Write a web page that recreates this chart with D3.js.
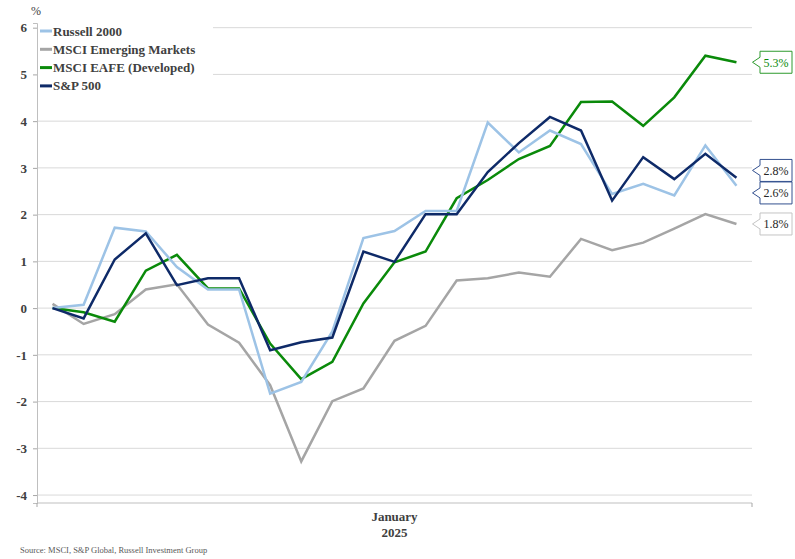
<!DOCTYPE html>
<html>
<head>
<meta charset="utf-8">
<script src="https://cdn.jsdelivr.net/npm/d3@7"></script>
<style>
  body { margin: 0; background: #fff; }
  svg text { font-family: "Liberation Serif", "DejaVu Serif", serif; }
</style>
</head>
<body>
<div id="chart"></div>
<script>
// trading days shown on the x axis (only "January 2025" is labelled)
const days = ["Dec 31", "Jan 2", "Jan 3", "Jan 6", "Jan 7", "Jan 8", "Jan 10", "Jan 13", "Jan 14",
  "Jan 15", "Jan 16", "Jan 17", "Jan 21", "Jan 22", "Jan 23", "Jan 24", "Jan 27", "Jan 28",
  "Jan 29", "Jan 30", "Jan 31", "Feb 3", "Feb 4"];

const russell = [0, 0.07, 1.72, 1.64, 0.88, 0.40, 0.40, -1.83, -1.58, -0.50, 1.50, 1.65,
  2.08, 2.08, 3.97, 3.33, 3.80, 3.51, 2.44, 2.66, 2.41, 3.48, 2.62];
const emerging = [0.09, -0.34, -0.13, 0.40, 0.51, -0.35, -0.74, -1.65, -3.28, -1.99, -1.72, -0.70,
  -0.38, 0.59, 0.64, 0.76, 0.67, 1.48, 1.24, 1.40, 1.70, 2.01, 1.80];
const eafe = [0, -0.09, -0.29, 0.80, 1.14, 0.42, 0.42, -0.76, -1.52, -1.15, 0.10, 0.98,
  1.21, 2.35, 2.74, 3.19, 3.47, 4.41, 4.42, 3.90, 4.51, 5.40, 5.26];
const sp500 = [0, -0.22, 1.04, 1.60, 0.49, 0.64, 0.64, -0.90, -0.73, -0.63, 1.21, 0.99,
  2.01, 2.01, 2.91, 3.53, 4.09, 3.80, 2.30, 3.23, 2.76, 3.30, 2.79];

const seriesNames = ["Russell 2000", "MSCI Emerging Markets", "MSCI EAFE (Developed)", "S&P 500"];
const seriesValues = [russell, emerging, eafe, sp500];
const seriesColors = ["#9dc3e6", "#a5a5a5", "#0a8a0a", "#0e2a68"];
const labelBorders = ["#33508f", "#c4c4c4", "#2e9a2e", "#33508f"];
const labelText = ["#262626", "#262626", "#0a8a0a", "#262626"];

const yTicks = [-4, -3, -2, -1, 0, 1, 2, 3, 4, 5, 6];

const width = 795, height = 559;
const svg = d3.select("#chart").append("svg")
  .attr("width", width)
  .attr("height", height);

const x = d3.scaleBand().domain(days).range([37, 752]);
const y = d3.scaleLinear().domain([-4.17, 6.1]).range([503, 23]);
const cx = d => x(d) + x.bandwidth() / 2;

// gridlines
svg.append("g")
  .selectAll("line")
  .data(yTicks)
  .enter().append("line")
  .attr("x1", 37).attr("x2", 752)
  .attr("y1", d => y(d)).attr("y2", d => y(d))
  .attr("stroke", "#d9d9d9").attr("stroke-width", 1);

// y axis (plain hyphen for negatives, like the original)
const yAxis = svg.append("g")
  .attr("transform", "translate(37,0)")
  .call(d3.axisLeft(y).tickValues(yTicks).tickSize(4).tickPadding(6).tickFormat(d => String(d)));
yAxis.select(".domain").attr("stroke", "#bfbfbf");
yAxis.selectAll(".tick line").attr("stroke", "#a6a6a6");
yAxis.selectAll("text")
  .attr("font-size", 13).attr("font-weight", "bold").attr("fill", "#404040")
  .attr("font-family", "Liberation Serif, serif");

svg.append("text")
  .attr("x", 31).attr("y", 15)
  .attr("font-size", 12).attr("fill", "#404040")
  .text("%");

// x axis
svg.append("line")
  .attr("x1", 37).attr("x2", 752).attr("y1", 503).attr("y2", 503)
  .attr("stroke", "#bfbfbf");
svg.append("g")
  .selectAll("line")
  .data([37, 752])
  .enter().append("line")
  .attr("x1", d => d).attr("x2", d => d)
  .attr("y1", 503).attr("y2", 507)
  .attr("stroke", "#a6a6a6");

svg.append("text")
  .attr("x", cx(days[11])).attr("y", 521)
  .attr("text-anchor", "middle").attr("font-size", 13).attr("font-weight", "bold").attr("fill", "#404040")
  .text("January");
svg.append("text")
  .attr("x", cx(days[11])).attr("y", 537)
  .attr("text-anchor", "middle").attr("font-size", 13).attr("font-weight", "bold").attr("fill", "#404040")
  .text("2025");

// lines
const line = d3.line()
  .x((d, i) => cx(days[i]))
  .y(d => y(d));

const order = [1, 2, 0, 3];
svg.append("g")
  .selectAll("path")
  .data(order)
  .enter().append("path")
  .attr("d", k => line(seriesValues[k]))
  .attr("fill", "none")
  .attr("stroke", k => seriesColors[k])
  .attr("stroke-width", 2.5)
  .attr("stroke-linejoin", "miter");

// legend
const legend = svg.append("g");
legend.append("rect")
  .attr("x", 38).attr("y", 21).attr("width", 175).attr("height", 74)
  .attr("fill", "#fff");
seriesNames.forEach((name, i) => {
  const ly = 31 + i * 18.3;
  legend.append("line")
    .attr("x1", 40).attr("x2", 52).attr("y1", ly).attr("y2", ly)
    .attr("stroke", seriesColors[i]).attr("stroke-width", 3);
  legend.append("text")
    .attr("x", 53).attr("y", ly + 4.5)
    .attr("font-size", 13).attr("font-weight", "bold").attr("fill", "#404040")
    .text(name);
});

// end-value callouts, spread apart when they collide
const last = seriesValues.map((v, i) => ({ i: i, v: v[v.length - 1], y: y(v[v.length - 1]) }));
last.sort((a, b) => a.y - b.y);
const gap = 22.5;
for (let iter = 0; iter < 20; iter++) {
  for (let j = 1; j < last.length; j++) {
    const d = last[j].y - last[j - 1].y;
    if (d < gap) {
      const push = (gap - d) / 2;
      last[j].y += push;
      last[j - 1].y -= push;
    }
  }
}

const bx = 760, bw = 32, bh = 22;
const callout = svg.append("g")
  .selectAll("g")
  .data(last)
  .enter().append("g");
callout.append("path")
  .attr("d", d => {
    const t = d.y - bh / 2, b = d.y + bh / 2;
    return `M${bx - 7.5},${d.y}L${bx},${d.y - 5}L${bx},${t}L${bx + bw},${t}L${bx + bw},${b}L${bx},${b}L${bx},${d.y + 5}Z`;
  })
  .attr("fill", "#fff")
  .attr("stroke", d => labelBorders[d.i])
  .attr("stroke-width", 1);
callout.append("text")
  .attr("x", bx + bw / 2).attr("y", d => d.y + 4.5)
  .attr("text-anchor", "middle").attr("font-size", 12)
  .attr("fill", d => labelText[d.i])
  .text(d => d3.format(".1f")(d.v) + "%");

// source
svg.append("text")
  .attr("x", 20).attr("y", 553)
  .attr("font-size", 8.5).attr("fill", "#595959")
  .text("Source: MSCI, S&P Global, Russell Investment Group");
</script>
</body>
</html>
